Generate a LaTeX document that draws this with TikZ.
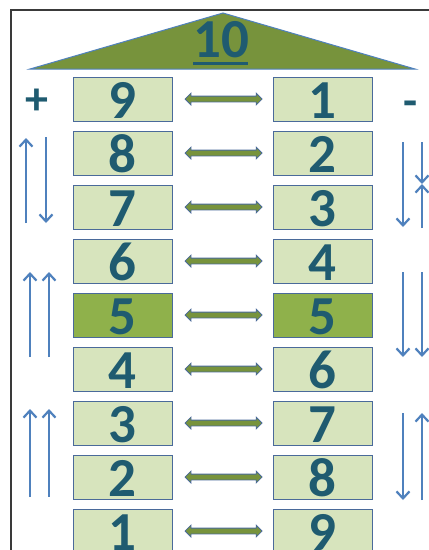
\documentclass[tikz,border=0pt]{standalone}
\usepackage{fontspec}
\newfontfamily\digitfont{Carlito}
\usepackage{xcolor}
\definecolor{boxfill}{HTML}{D7E4BD}
\definecolor{midfill}{HTML}{8FB14B}
\definecolor{roofgreen}{HTML}{77933C}
\definecolor{boxline}{HTML}{4A6A9A}
\definecolor{moveblue}{HTML}{4F81BD}
\definecolor{digitteal}{HTML}{1F5B70}
\definecolor{framegray}{HTML}{3A3A3A}
\usetikzlibrary{positioning,arrows.meta,shapes.arrows}

\begin{document}
\begin{tikzpicture}[x=1pt, y=-1pt,
    numbox/.style={draw=boxline, fill=boxfill, line width=1pt,
                   minimum width=99pt, minimum height=44pt, inner sep=0pt,
                   text height=38pt, text depth=0pt, text=digitteal,
                   font=\digitfont\bfseries\fontsize{55}{55}\selectfont},
    midbox/.style={numbox, fill=midfill},
    link/.style={double arrow, draw=boxline, fill=roofgreen, line width=0.8pt,
                 minimum height=77pt, minimum width=11pt, inner sep=2.5pt,
                 double arrow head extend=3pt},
    sign/.style={text=digitteal, inner sep=0pt,
                 font=\digitfont\bfseries\fontsize{46}{46}\selectfont},
    move/.style={-{Straight Barb[length=7pt, width=13pt]}, line width=2.2pt,
                 color=moveblue}]
  \useasboundingbox (0,0) rectangle (429,550);
  \fill[white] (0,0) rectangle (429,550);
  \clip (0,0) rectangle (429,550);
  % frame and roof
  \draw[framegray, line width=1.6pt] (11,560) -- (11,10) -- (440,10);
  \draw[fill=roofgreen, draw=moveblue, line width=1pt]
    (30,69) -- (223,13) -- (415,69) -- cycle;
  \node[sign, font=\digitfont\bfseries\fontsize{55}{55}\selectfont,
        anchor=base] (ten) at (221,57) {10};
  \draw[digitteal, line width=2.2pt] (193,63.5) -- (248,63.5);
  % signs
  \node[sign] (plus) at (37,102) {+};
  \node[sign] (minus) at (411,109) {-};
  % left column
  \node[numbox] (l9) at (122.5,99) {9};
  \node[numbox, below=9pt of l9] (l8) {8};
  \node[numbox, below=9pt of l8] (l7) {7};
  \node[numbox, below=9pt of l7] (l6) {6};
  \node[midbox, below=9pt of l6] (l5) {5};
  \node[numbox, below=9pt of l5] (l4) {4};
  \node[numbox, below=9pt of l4] (l3) {3};
  \node[numbox, below=9pt of l3] (l2) {2};
  \node[numbox, below=9pt of l2] (l1) {1};
  % links
  \node[link, right=12pt of l9] (a9) {};
  \node[link, right=12pt of l8] (a8) {};
  \node[link, right=12pt of l7] (a7) {};
  \node[link, right=12pt of l6] (a6) {};
  \node[link, right=12pt of l5] (a5) {};
  \node[link, right=12pt of l4] (a4) {};
  \node[link, right=12pt of l3] (a3) {};
  \node[link, right=12pt of l2] (a2) {};
  \node[link, right=12pt of l1] (a1) {};
  % right column
  \node[numbox, right=10pt of a9] (r1) {1};
  \node[numbox, below=9pt of r1] (r2) {2};
  \node[numbox, below=9pt of r2] (r3) {3};
  \node[numbox, below=9pt of r3] (r4) {4};
  \node[midbox, below=9pt of r4] (r5) {5};
  \node[numbox, below=9pt of r5] (r6) {6};
  \node[numbox, below=9pt of r6] (r7) {7};
  \node[numbox, below=9pt of r7] (r8) {8};
  \node[numbox, below=9pt of r8] (r9) {9};
  % left moves
  \coordinate (lat) at (26,138);  \coordinate (lab) at (26,223);
  \coordinate (lbt) at (46,137);  \coordinate (lbb) at (46,223);
  \coordinate (lct) at (30,272);  \coordinate (lcb) at (30,357);
  \coordinate (ldt) at (49,272);  \coordinate (ldb) at (49,357);
  \coordinate (let) at (30,409);  \coordinate (leb) at (30,497);
  \coordinate (lft) at (49,409);  \coordinate (lfb) at (49,497);
  \draw[move] (lab) -- (lat);
  \draw[move] (lbt) -- (lbb);
  \draw[move] (lcb) -- (lct);
  \draw[move] (ldb) -- (ldt);
  \draw[move] (leb) -- (let);
  \draw[move, {Straight Barb[length=7pt, width=13pt]}-] (lft) -- (lfb);
  % right moves
  \coordinate (rat) at (403,142); \coordinate (rab) at (403,227);
  \coordinate (rbt) at (422,142); \coordinate (rbm) at (422,184);
  \coordinate (rbb) at (422,228);
  \coordinate (rct) at (403,272); \coordinate (rcb) at (403,357);
  \coordinate (rdt) at (422,272); \coordinate (rdb) at (422,357);
  \coordinate (ret) at (403,413); \coordinate (reb) at (403,500);
  \coordinate (rft) at (422,413); \coordinate (rfb) at (422,500);
  \draw[move] (rat) -- (rab);
  \draw[move] (rbt) -- (rbm);
  \draw[move] (rbb) -- (rbm);
  \draw[move] (rct) -- (rcb);
  \draw[move] (rdt) -- (rdb);
  \draw[move] (ret) -- (reb);
  \draw[move] (rfb) -- (rft);
\end{tikzpicture}
\end{document}
